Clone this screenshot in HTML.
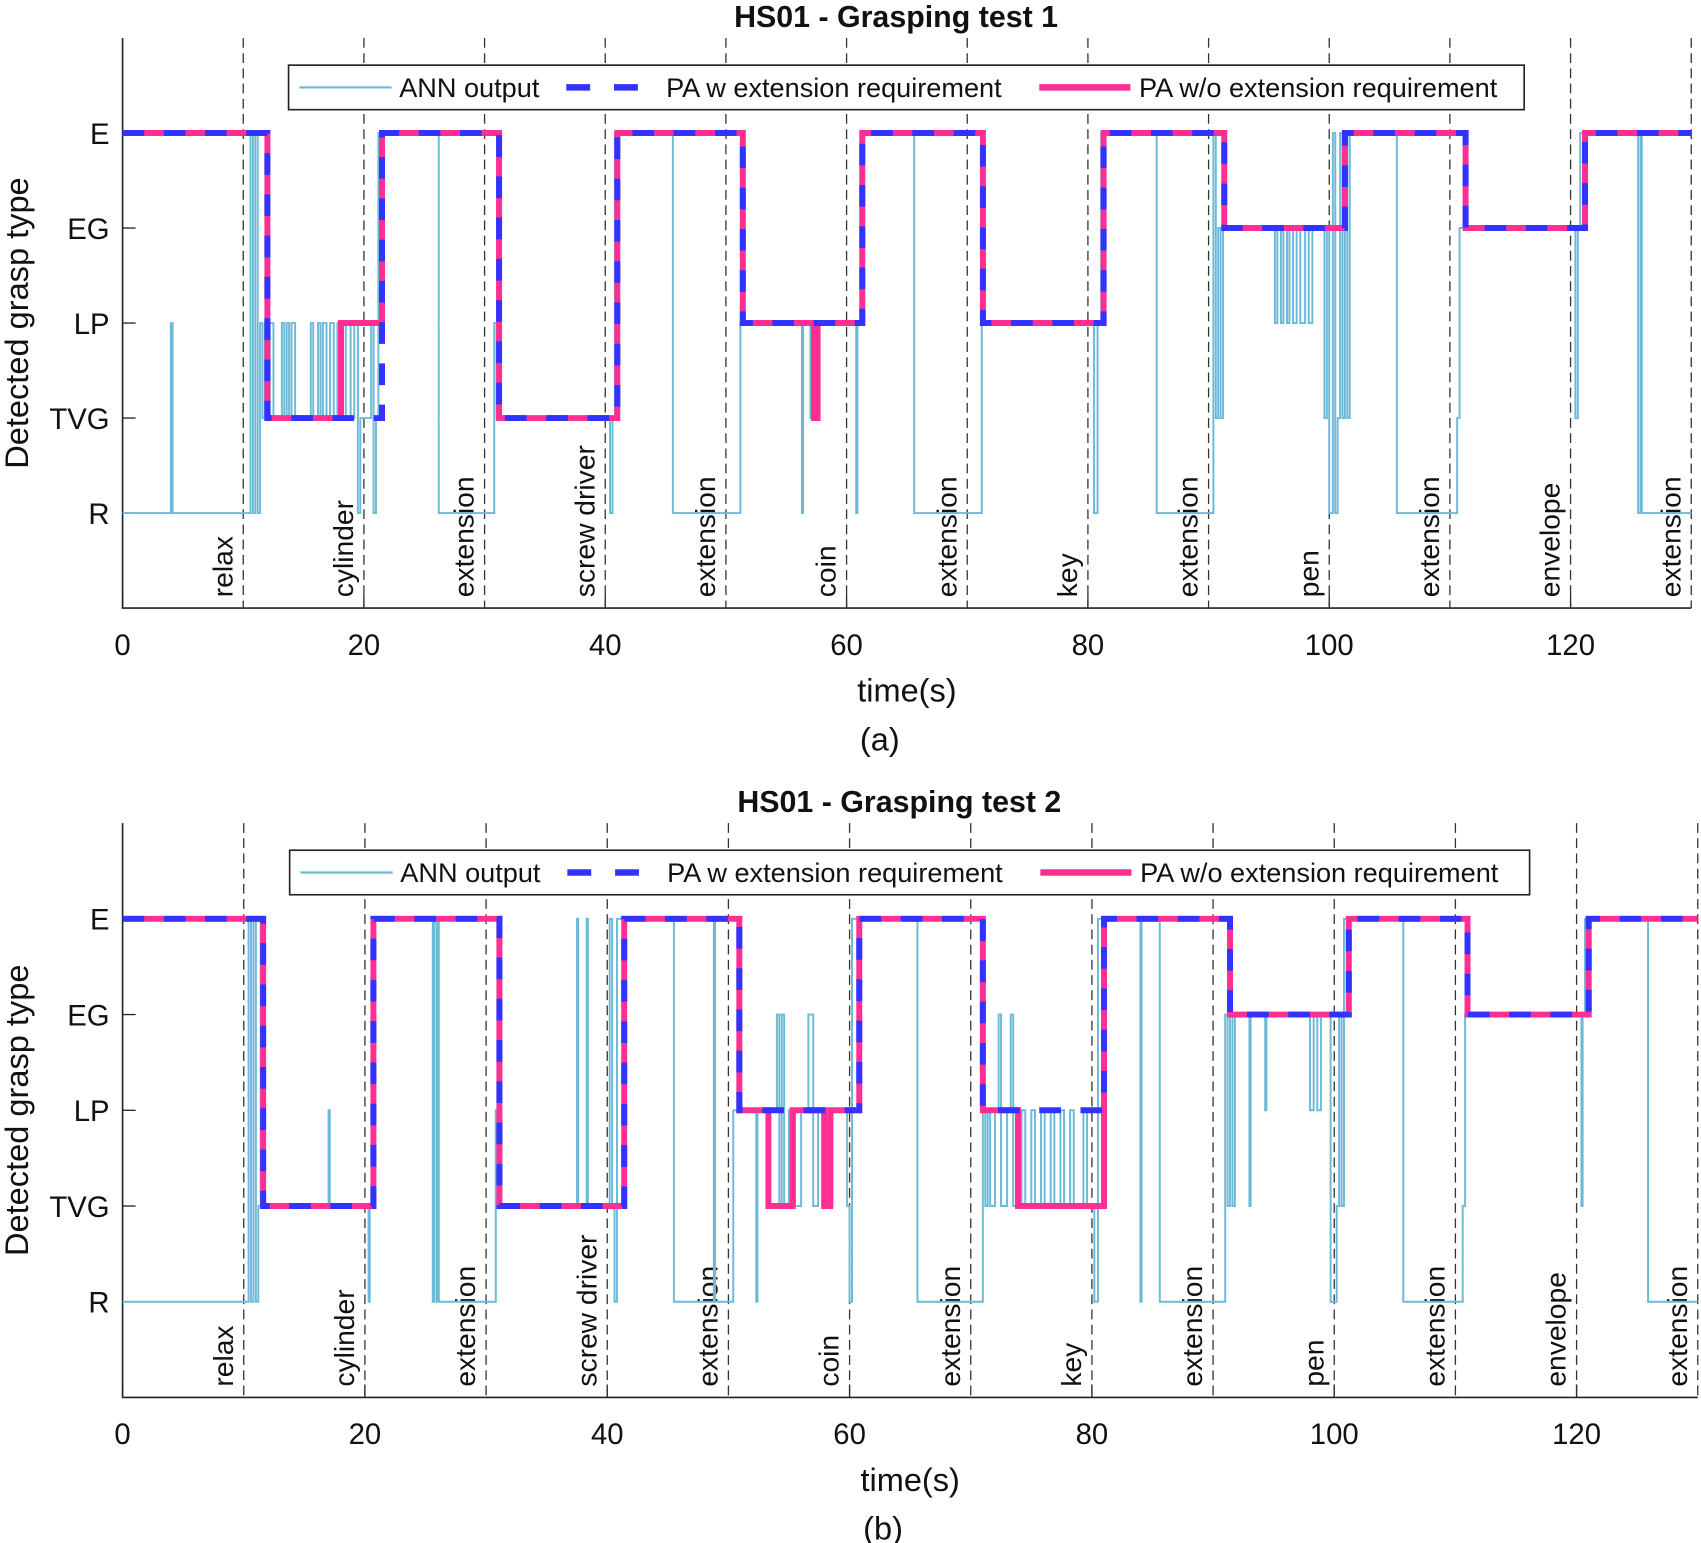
<!DOCTYPE html>
<html><head><meta charset="utf-8"><style>
html,body{margin:0;padding:0;background:#fff}
svg{display:block;font-family:"Liberation Sans",Arial,sans-serif}
</style></head><body>
<svg id="fig" width="1701" height="1543" viewBox="0 0 1568 1421" preserveAspectRatio="none" xmlns="http://www.w3.org/2000/svg"></svg>
<script>
const levelNames = ["R","TVG","LP","EG","E"];
const xTicks = [0,20,40,60,80,100,120];
const phaseLabels = ["relax","cylinder","extension","screw driver","extension","coin","extension","key","extension","pen","extension","envelope","extension"];
const phaseBounds = [10,20,30,40,50,60,70,80,90,100,110,120,130];

// Test 1
const ann1T = [0,4.0,4.15,10.6,10.8,11.0,11.2,11.4,11.6,11.8,12.0,12.2,12.5,13.2,13.4,13.6,13.8,14.0,14.3,15.6,15.8,16.2,16.4,16.6,16.9,17.2,17.5,17.8,18.1,18.5,18.9,19.2,19.5,19.7,20.6,20.8,21.0,21.2,26.2,30.8,31.0,40.4,40.6,40.8,45.6,51.2,56.3,56.4,57.0,57.1,60.8,60.9,61.2,65.6,71.2,80.5,80.8,81.1,85.7,90.4,90.6,90.8,91.0,91.2,95.5,95.7,96.0,96.2,96.5,96.7,97.0,97.3,97.6,98.0,98.3,98.6,99.6,99.8,100.0,100.3,100.5,100.7,100.9,101.1,101.3,101.5,101.7,105.6,110.6,110.8,120.4,120.6,120.8,125.6,125.8,125.9,130];
const ann1V = [0,2,0,4,0,4,0,2,1,2,1,2,1,2,1,2,1,2,1,2,1,2,1,2,1,2,1,2,1,2,1,2,0,1,2,0,1,4,0,2,1,0,1,4,0,2,0,2,1,2,0,2,4,0,2,0,2,4,0,4,1,3,1,3,2,3,2,3,2,3,2,3,2,3,2,3,1,3,0,4,0,1,4,1,4,1,4,0,1,3,1,3,4,0,4,0,0];
const paW1T = [0,12,21.5,31.2,41,51.4,61.3,71.3,81.3,91.3,101.3,111.3,121.2,130];
const paW1V = [4,1,4,1,4,2,4,2,4,3,4,3,4,4];
const paO1T = [0,12,18.1,21.5,31.2,41,51.4,57.3,57.6,61.3,71.3,81.3,91.3,101.3,111.3,121.2,130];
const paO1V = [4,1,2,4,1,4,2,1,2,4,2,4,3,4,3,4,4];

// Test 2
const ann2T = [0,10.4,10.6,10.8,11.0,11.2,11.4,11.6,17.0,17.1,20.3,20.4,20.6,25.6,25.7,25.9,26.0,26.1,30.8,31.0,37.5,37.6,38.3,38.4,40.2,40.4,40.6,40.8,45.5,48.8,48.9,50.4,52.3,52.4,54.0,54.2,54.4,54.6,55.0,55.5,56.0,56.6,57.0,57.4,58.0,58.6,59.8,60.0,60.2,65.6,71.0,71.2,71.4,71.6,72.0,72.3,72.5,73.0,73.3,73.5,74.2,74.5,75.0,75.3,75.8,76.1,76.6,76.9,77.4,77.7,78.2,78.5,79.3,79.6,80.2,80.5,84.0,84.1,85.6,91.0,91.2,91.4,91.6,91.8,93.0,93.1,94.3,94.4,98.0,98.3,98.6,98.9,99.7,100.2,100.4,100.6,100.8,105.7,110.6,110.8,120.4,120.5,120.7,125.9,130];
const ann2V = [0,4,0,4,0,1,4,1,2,1,0,1,4,0,4,0,4,0,2,1,4,1,4,1,4,1,0,4,0,4,0,2,0,2,3,1,3,1,2,1,2,3,1,2,1,2,1,0,4,0,2,1,2,1,2,3,1,2,3,1,2,1,2,1,2,1,2,1,2,1,2,1,2,1,0,4,0,4,0,3,1,3,1,3,1,3,2,3,2,3,2,3,0,1,3,1,4,0,1,3,1,3,4,0,0];
const paW2T = [0,11.6,20.7,31.1,41.4,50.9,60.8,71.0,81.0,91.4,101.2,111.0,121.0,130];
const paW2V = [4,1,4,1,4,2,4,2,4,3,4,3,4,4];
const paO2T = [0,11.6,20.7,31.1,41.4,50.9,53.3,55.3,57.9,58.4,60.8,71.0,73.9,81.0,91.4,101.2,111.0,121.0,130];
const paO2V = [4,1,4,1,4,2,1,2,1,2,4,2,1,4,3,4,3,4,4];

const NS="http://www.w3.org/2000/svg";
const svg=document.getElementById('fig');
function mk(tag,attrs,parent,text){const e=document.createElementNS(NS,tag);for(const k in attrs)e.setAttribute(k,attrs[k]);if(text!==undefined)e.textContent=text;(parent||svg).appendChild(e);return e;}

function stepPath(T,V,sx,sy){let d='M'+sx(T[0])+','+sy(V[0]);for(let i=1;i<T.length;i++){d+=' L'+sx(T[i])+','+sy(V[i-1])+' L'+sx(T[i])+','+sy(V[i]);}return d;}

function panel(cfg){
  const g=mk('g',{});
  
  
  const L=cfg.left,R=cfg.right,Tp=cfg.top,B=cfg.bottom;
  const sx=t=>L+(t-0)/130*(R-L);
  const sy=v=>B-(v+1)/6*(B-Tp);
  const ax=mk('path',{d:`M${L},${Tp} L${L},${B} L${R},${B}`,fill:'none',stroke:'#222','stroke-width':1.5},g);
  
  levelNames.forEach((n,i)=>{
    const y=sy(i);
    mk('line',{x1:L,x2:L+12,y1:y,y2:y,stroke:'#222','stroke-width':1.2},g);
    const t=mk('text',{x:L-12,y:y+10,'font-size':27,'text-anchor':'end',fill:'#111'},g,n);
    
  });
  xTicks.forEach(v=>{
    const x=sx(v);
    mk('line',{x1:x,x2:x,y1:B,y2:B-12,stroke:'#222','stroke-width':1.2},g);
    const t=mk('text',{x:x,y:B+43,'font-size':27,'text-anchor':'middle',fill:'#111'},g,String(v));
    
  });
  phaseBounds.forEach((b,i)=>{
    const x=sx(b);
    const ln=mk('line',{x1:x,x2:x,y1:Tp,y2:B,stroke:'#333','stroke-width':1.2,'stroke-dasharray':'9,5'},g);
    
    const lx=x-10,ly=B-10;
    const t=mk('text',{x:lx,y:ly,'font-size':26,transform:`rotate(-90 ${lx} ${ly})`,fill:'#111'},g,phaseLabels[i]);
    
  });
  const a=mk('path',{d:stepPath(cfg.annT,cfg.annV,sx,sy),fill:'none',stroke:'#6cb9d8','stroke-width':1.8},g);
  
  const o=mk('path',{d:stepPath(cfg.oT,cfg.oV,sx,sy),fill:'none',stroke:'#ff2e93','stroke-width':5.5},g);
  
  const w=mk('path',{d:stepPath(cfg.wT,cfg.wV,sx,sy),fill:'none',stroke:'#3333ff','stroke-width':5.5,'stroke-dasharray':'20,18'},g);
  
  const tt=mk('text',{x:(L+R)/2-10,y:Tp-10,'font-size':28,'font-weight':'bold','text-anchor':'middle',fill:'#111'},g,cfg.title);
  
  const xl=mk('text',{x:(L+R)/2,y:B+86,'font-size':30,'text-anchor':'middle',fill:'#111'},g,'time(s)');
  
  const yx=26,yy=(Tp+B)/2;
  const yl=mk('text',{x:yx,y:yy,'font-size':30,'text-anchor':'middle',transform:`rotate(-90 ${yx} ${yy})`,fill:'#111'},g,'Detected grasp type');
  
  const cap=mk('text',{x:(L+R)/2-25,y:B+131,'font-size':30,'text-anchor':'middle',fill:'#111'},g,cfg.caption);
  
  const lg=mk('g',{},g);
  
  const lx=cfg.legX,ly=cfg.legY,lw=cfg.legW,lh=41;
  mk('rect',{x:lx,y:ly,width:lw,height:lh,fill:'#fff',stroke:'#222','stroke-width':1.5},lg);
  const cy=ly+lh/2;
  mk('line',{x1:lx+10,x2:lx+95,y1:cy,y2:cy,stroke:'#6cb9d8','stroke-width':2},lg);
  const e1=mk('text',{x:lx+102,y:cy+9,'font-size':25,fill:'#111'},lg,'ANN output');
  
  mk('line',{x1:lx+256,x2:lx+340,y1:cy,y2:cy,stroke:'#3333ff','stroke-width':6,'stroke-dasharray':'22,22'},lg);
  const e2=mk('text',{x:lx+348,y:cy+9,'font-size':25,fill:'#111'},lg,'PA w extension requirement');
  
  mk('line',{x1:lx+692,x2:lx+776,y1:cy,y2:cy,stroke:'#ff2e93','stroke-width':6},lg);
  const e3=mk('text',{x:lx+784,y:cy+9,'font-size':25,fill:'#111'},lg,'PA w/o extension requirement');
  
}

panel({name:'chart-test-1',left:113,right:1559,top:35,bottom:560,title:'HS01 - Grasping test 1',caption:'(a)',
  annT:ann1T,annV:ann1V,wT:paW1T,wV:paW1V,oT:paO1T,oV:paO1V,legX:266,legY:60,legW:1139});
panel({name:'chart-test-2',left:113,right:1565,top:758,bottom:1287,title:'HS01 - Grasping test 2',caption:'(b)',
  annT:ann2T,annV:ann2V,wT:paW2T,wV:paW2V,oT:paO2T,oV:paO2V,legX:267,legY:783,legW:1143});
</script>
</body></html>
